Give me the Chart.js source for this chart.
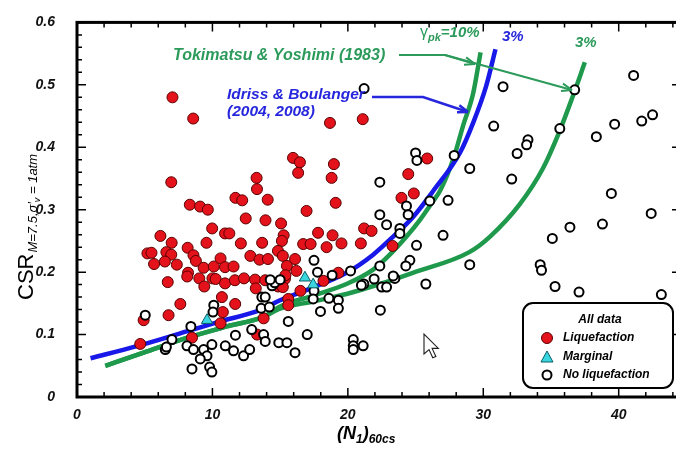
<!DOCTYPE html>
<html lang="en">
<head>
<meta charset="UTF-8">
<title>CSR vs (N1)60cs</title>
<script src="https://cdn.jsdelivr.net/npm/chart.js@4.4.1/dist/chart.umd.min.js"></script>
<style>
    html, body { margin: 0; padding: 0; background: #fff; overflow: hidden; }
    #wrap { width: 690px; height: 449px; }
</style>
</head>
<body>
<div id="wrap"><canvas id="csrChart" width="690" height="449"></canvas></div>
<script>
// liquefaction case histories (red)
const liqN = [7.05, 8.58, 18.68, 21.1, 6.96, 15.95, 16.46, 16.33, 18.97, 18.8, 19.1, 13.26, 13.29, 14.08, 11.7, 12.2,
    12.46, 13.92, 15.07, 8.33, 9.09, 9.66, 16.95, 17.8, 18.87, 9.98, 10.93, 11.25, 15.26, 6.16, 21.2, 21.75,
    23.96, 24.46, 24.87, 25.86, 23.3, 20.96, 19.53, 18.43, 16.7, 17.25, 15.13, 13.67, 12.1, 9.56, 6.99,
    5.2, 5.5, 6.6, 6.96, 8.17, 8.6, 8.78, 9.35, 10.1, 10.6, 10.93, 11.56, 12.8, 13.48, 14.1, 14.84, 15.2,
    15.5, 16.1, 16.2, 15.35, 15.39, 5.69, 6.49, 7.37, 8.2, 8.14, 9.03, 10.0, 9.4, 10.24, 10.93, 11.66, 12.33,
    13.15, 13.2, 13.9, 14.85, 15.2, 6.7, 7.63, 10.7, 11.68, 16.5, 15.6, 15.6, 18.2, 19.3, 10.77, 13.78,
    10.6, 6.76, 4.92, 8.49, 13.3, 4.67];
const liqCSR = [0.480, 0.446, 0.439, 0.445, 0.344, 0.383, 0.376, 0.359, 0.373, 0.351, 0.311, 0.351, 0.333, 0.316, 0.319, 0.315,
    0.286, 0.283, 0.278, 0.308, 0.305, 0.300, 0.298, 0.263, 0.259, 0.270, 0.262, 0.262, 0.259, 0.258, 0.270, 0.266,
    0.319, 0.357, 0.326, 0.382, 0.242, 0.246, 0.246, 0.240, 0.245, 0.245, 0.250, 0.247, 0.246, 0.247, 0.247,
    0.230, 0.231, 0.232, 0.228, 0.239, 0.227, 0.218, 0.207, 0.209, 0.222, 0.208, 0.209, 0.226, 0.220, 0.221, 0.234, 0.226,
    0.210, 0.221, 0.202, 0.189, 0.195, 0.213, 0.217, 0.212, 0.199, 0.193, 0.190, 0.190, 0.177, 0.189, 0.182, 0.187, 0.190,
    0.188, 0.174, 0.187, 0.177, 0.176, 0.184, 0.149, 0.160, 0.149, 0.170, 0.157, 0.147, 0.186, 0.199, 0.136, 0.126,
    0.118, 0.131, 0.123, 0.095, 0.100, 0.085];

// marginal (cyan triangles)
const margN = [9.6, 16.83, 17.44];
const margCSR = [0.123, 0.191, 0.180];

// no liquefaction (open circles)
const noLiqN = [21.2, 31.46, 36.75, 41.1, 41.7, 42.5, 30.77, 35.65, 39.7, 38.35, 33.3, 33.2, 32.5, 25.0, 25.1, 27.85,
    29.0, 22.36, 32.1, 39.46, 26.05, 27.4, 24.33, 24.45, 22.36, 22.86, 23.84, 23.84, 27.03, 42.4, 38.8, 36.4,
    35.1, 25.07, 24.58, 24.28, 22.36, 29.0, 34.2, 34.3, 35.3, 37.07, 43.15, 17.5, 20.2, 18.84, 17.76, 21.94,
    23.47, 23.35, 21.18, 21.0, 22.5, 22.86, 25.76, 17.5, 17.44, 18.6, 19.3, 19.3, 17.98, 22.4, 15.6, 14.4,
    14.6, 14.27, 15.0, 13.65, 13.9, 13.6, 14.2, 10.1, 10.04, 5.04, 8.41, 7.01, 6.52, 6.6, 8.12, 8.6, 9.35,
    9.6, 9.96, 9.1, 8.49, 9.79, 9.96, 10.95, 11.56, 12.3, 12.75, 12.9, 13.78, 13.9, 14.9, 15.5, 16.1, 17.0,
    11.7, 20.4, 20.4, 21.13, 20.4];
const noLiqCSR = [0.494, 0.497, 0.492, 0.515, 0.442, 0.452, 0.434, 0.430, 0.437, 0.417, 0.412, 0.404, 0.390, 0.391, 0.379, 0.387,
    0.366, 0.344, 0.349, 0.326, 0.314, 0.315, 0.306, 0.292, 0.292, 0.276, 0.270, 0.262, 0.259, 0.294, 0.277, 0.272,
    0.254, 0.243, 0.219, 0.210, 0.210, 0.212, 0.212, 0.203, 0.177, 0.168, 0.164, 0.219, 0.202, 0.195, 0.200, 0.189,
    0.190, 0.194, 0.181, 0.179, 0.176, 0.176, 0.181, 0.170, 0.157, 0.158, 0.155, 0.142, 0.137, 0.139, 0.121, 0.178,
    0.183, 0.188, 0.188, 0.160, 0.160, 0.142, 0.144, 0.147, 0.136, 0.131, 0.113, 0.092, 0.076, 0.080, 0.082, 0.076, 0.076,
    0.066, 0.084, 0.061, 0.045, 0.048, 0.040, 0.082, 0.074, 0.066, 0.076, 0.108, 0.100, 0.089, 0.087, 0.087, 0.071, 0.100,
    0.099, 0.092, 0.082, 0.082, 0.076];

// Idriss & Boulanger (2004, 2008) curve
const ibN = [1.0, 4.43, 8.1, 10.58, 13.5, 15.0, 17.44, 19.9, 21.87, 23.35, 24.8, 26.3, 28.3, 29.25, 30.2, 30.9];
const ibCSR = [0.062, 0.0815, 0.105, 0.121, 0.139, 0.155, 0.1755, 0.199, 0.228, 0.257, 0.288, 0.330, 0.392, 0.439, 0.497, 0.557];

// Tokimatsu & Yoshimi (1983), gamma_pk = 10%
const ty10N = [2.09, 4.92, 8.1, 11.07, 13.78, 15.0, 17.44, 19.9, 21.87, 23.1, 24.33, 25.3, 26.3, 26.8, 27.8, 28.5, 29.25, 29.8];
const ty10CSR = [0.050, 0.071, 0.0946, 0.113, 0.1285, 0.145, 0.1625, 0.181, 0.204, 0.228, 0.257, 0.283, 0.314, 0.330, 0.382, 0.434, 0.486, 0.552];

// Tokimatsu & Yoshimi (1983), 3%
const ty3N = [2.09, 4.92, 8.1, 11.07, 13.78, 15.0, 17.44, 19.9, 22.36, 24.8, 28.97, 30.5, 32.7, 34.4, 35.6, 36.6, 37.5];
const ty3CSR = [0.050, 0.071, 0.0946, 0.113, 0.1285, 0.1415, 0.153, 0.165, 0.181, 0.199, 0.232, 0.257, 0.309, 0.366, 0.424, 0.481, 0.536];

const xTicks = [0, 10, 20, 30, 40];
const yTicks = [0, 0.1, 0.2, 0.3, 0.4, 0.5, 0.6];

const FONT = 'Arial, "Liberation Sans", sans-serif';
const RED = '#e3121b', CYAN = '#3ad6df', BLUE = '#1818e8', GREEN = '#1f9a4c';
const GREEN_TXT = '#2b9a5a', BLUE_TXT = '#2626dc';

const pts = (xs, ys) => xs.map((v, i) => ({ x: v, y: ys[i] }));

function curve(xs, ys, color, width) {
    return {
        data: pts(xs, ys), showLine: true, borderColor: color, borderWidth: width,
        pointRadius: 0, cubicInterpolationMode: 'monotone', order: 10
    };
}

function arrow(ctx, path, color, w) {
    ctx.save();
    ctx.strokeStyle = color; ctx.fillStyle = color; ctx.lineWidth = w;
    ctx.beginPath();
    ctx.moveTo(path[0][0], path[0][1]);
    for (let i = 1; i < path.length; i++) ctx.lineTo(path[i][0], path[i][1]);
    ctx.stroke();
    const [x1, y1] = path[path.length - 2], [x2, y2] = path[path.length - 1];
    const a = Math.atan2(y2 - y1, x2 - x1);
    ctx.beginPath();
    ctx.moveTo(x2, y2);
    ctx.lineTo(x2 - 11 * Math.cos(a - 0.35), y2 - 11 * Math.sin(a - 0.35));
    ctx.moveTo(x2, y2);
    ctx.lineTo(x2 - 11 * Math.cos(a + 0.35), y2 - 11 * Math.sin(a + 0.35));
    ctx.stroke();
    ctx.restore();
}

const decorations = {
    id: 'decorations',
    afterDatasetsDraw(chart) {
        const { ctx, chartArea: a, scales: { x, y } } = chart;
        ctx.save();
        // inward ticks on all four sides
        ctx.strokeStyle = '#000';
        ctx.lineWidth = 1.5;
        ctx.beginPath();
        for (let v = 0; v <= 44; v += 2) {
            const px = x.getPixelForValue(v);
            const len = v % 10 === 0 ? 9 : 5;
            ctx.moveTo(px, a.bottom); ctx.lineTo(px, a.bottom - len);
            ctx.moveTo(px, a.top); ctx.lineTo(px, a.top + len);
        }
        for (let k = 0; k <= 30; k++) {
            const py = y.getPixelForValue(k * 0.02);
            const len = k % 5 === 0 ? 9 : 5;
            ctx.moveTo(a.left, py); ctx.lineTo(a.left + len, py);
            ctx.moveTo(a.right, py); ctx.lineTo(a.right - len, py);
        }
        ctx.stroke();
        // frame
        ctx.lineWidth = 3;
        ctx.strokeRect(a.left, a.top, a.right - a.left, a.bottom - a.top);

        // annotations
        ctx.textBaseline = 'middle';
        ctx.textAlign = 'left';
        ctx.fillStyle = GREEN_TXT;
        ctx.font = 'italic bold 16px ' + FONT;
        ctx.fillText('Tokimatsu & Yoshimi (1983)', 173, 56);
        arrow(ctx, [[399, 55], [445, 55], [475, 64]], GREEN_TXT, 2);
        arrow(ctx, [[445, 55], [572, 90]], GREEN_TXT, 2);

        ctx.fillStyle = BLUE_TXT;
        ctx.font = 'italic bold 15.5px ' + FONT;
        ctx.fillText('Idriss & Boulanger', 227, 95);
        ctx.fillText('(2004, 2008)', 227, 112);
        arrow(ctx, [[372, 97], [423, 97], [468, 112]], BLUE_TXT, 2.5);

        // gamma_pk = 10%
        ctx.fillStyle = GREEN_TXT;
        ctx.font = '16px ' + FONT;
        ctx.fillText('\u03b3', 420, 33);
        let cx = 420 + ctx.measureText('\u03b3').width;
        ctx.font = 'italic bold 11px ' + FONT;
        ctx.fillText('pk', cx, 38);
        cx += ctx.measureText('pk').width;
        ctx.font = 'italic bold 15px ' + FONT;
        ctx.fillText('=10%', cx, 33);
        ctx.fillText('3%', 575, 43);
        ctx.fillStyle = BLUE_TXT;
        ctx.fillText('3%', 502, 37);

        // legend box
        ctx.fillStyle = '#fff';
        ctx.strokeStyle = '#000';
        ctx.lineWidth = 2;
        ctx.beginPath();
        ctx.roundRect(523, 303, 150, 85, 10);
        ctx.fill();
        ctx.stroke();
        ctx.fillStyle = '#000';
        ctx.font = 'italic bold 12px ' + FONT;
        ctx.textAlign = 'center';
        ctx.fillText('All data', 600, 320);
        ctx.textAlign = 'left';
        ctx.fillText('Liquefaction', 563, 338);
        ctx.fillText('Marginal', 563, 357);
        ctx.fillText('No liquefaction', 563, 375);
        ctx.lineWidth = 1;
        ctx.fillStyle = RED; ctx.strokeStyle = '#5a0000';
        ctx.beginPath(); ctx.arc(547, 338, 5.5, 0, Math.PI * 2); ctx.fill(); ctx.stroke();
        ctx.fillStyle = CYAN; ctx.strokeStyle = '#0a5f66';
        ctx.beginPath(); ctx.moveTo(547, 351); ctx.lineTo(553, 362); ctx.lineTo(541, 362); ctx.closePath(); ctx.fill(); ctx.stroke();
        ctx.fillStyle = '#fff'; ctx.strokeStyle = '#000'; ctx.lineWidth = 2;
        ctx.beginPath(); ctx.arc(547, 375, 4.5, 0, Math.PI * 2); ctx.fill(); ctx.stroke();

        // mouse pointer left in the screenshot
        ctx.save();
        ctx.translate(424, 334);
        ctx.scale(1.25, 1.25);
        ctx.beginPath();
        ctx.moveTo(0, 0); ctx.lineTo(0, 16); ctx.lineTo(4, 12.5); ctx.lineTo(7, 19);
        ctx.lineTo(9.5, 18); ctx.lineTo(6.5, 11.5); ctx.lineTo(11.5, 11.5); ctx.closePath();
        ctx.fillStyle = '#fff'; ctx.fill();
        ctx.lineWidth = 0.9; ctx.strokeStyle = '#222'; ctx.stroke();
        ctx.restore();

        // y axis title
        ctx.save();
        ctx.translate(33, 300);
        ctx.rotate(-Math.PI / 2);
        ctx.textBaseline = 'alphabetic';
        ctx.fillStyle = '#000';
        ctx.font = '22px ' + FONT;
        ctx.fillText('CSR', 0, 0);
        let t = ctx.measureText('CSR').width + 1;
        ctx.font = 'italic 13px ' + FONT;
        ctx.fillText('M=7.5,\u03c3\u2032', t, 4);
        t += ctx.measureText('M=7.5,\u03c3\u2032').width;
        ctx.font = 'italic 9px ' + FONT;
        ctx.fillText('v', t, 7);
        t += ctx.measureText('v').width;
        ctx.font = 'italic 13px ' + FONT;
        ctx.fillText(' = 1atm', t, 4);
        ctx.restore();

        // x axis title
        ctx.textBaseline = 'alphabetic';
        ctx.fillStyle = '#000';
        let sx = 337;
        const parts = [['(N', 18, 0], ['1', 12, 4], [')', 18, 0], ['60cs', 12, 4]];
        parts.forEach(([s, size, dy]) => {
            ctx.font = 'italic bold ' + size + 'px ' + FONT;
            ctx.fillText(s, sx, 439 + dy);
            sx += ctx.measureText(s).width;
        });
        ctx.restore();
    }
};

new Chart(document.getElementById('csrChart'), {
    type: 'scatter',
    data: {
        datasets: [
            {
                label: 'Marginal', data: pts(margN, margCSR), pointStyle: 'triangle', pointRadius: 6.5,
                backgroundColor: CYAN, borderColor: '#0a5f66', borderWidth: 1, order: 1
            },
            {
                label: 'No liquefaction', data: pts(noLiqN, noLiqCSR), pointStyle: 'circle', pointRadius: 4.5,
                backgroundColor: '#fff', borderColor: '#000', borderWidth: 2, order: 2
            },
            {
                label: 'Liquefaction', data: pts(liqN, liqCSR), pointStyle: 'circle', pointRadius: 5.5,
                backgroundColor: RED, borderColor: '#5a0000', borderWidth: 1, order: 3
            },
            curve(ibN, ibCSR, BLUE, 4.5),
            curve(ty10N, ty10CSR, GREEN, 4.5),
            curve(ty3N, ty3CSR, GREEN, 4.5)
        ]
    },
    options: {
        responsive: false,
        animation: false,
        devicePixelRatio: 1,
        layout: { padding: { top: 14, right: 9, left: 0, bottom: 0 } },
        plugins: { legend: { display: false }, tooltip: { enabled: false } },
        scales: {
            x: {
                type: 'linear', min: 0, max: 44.6,
                grid: { display: false }, border: { display: false },
                afterBuildTicks: s => { s.ticks = xTicks.map(v => ({ value: v })); },
                afterFit: s => { s.height = 52; },
                ticks: {
                    padding: 2, color: '#111', maxRotation: 0,
                    font: { family: FONT, size: 14, style: 'italic', weight: 'bold' }
                }
            },
            y: {
                type: 'linear', min: 0, max: 0.6,
                grid: { display: false }, border: { display: false },
                afterBuildTicks: s => { s.ticks = yTicks.map(v => ({ value: v })); },
                afterFit: s => { s.width = 77; },
                ticks: {
                    padding: 14, color: '#111',
                    font: { family: FONT, size: 14, style: 'italic', weight: 'bold' },
                    callback: v => v === 0 ? '0' : v.toFixed(1)
                }
            }
        }
    },
    plugins: [decorations]
});
</script>
</body>
</html>
